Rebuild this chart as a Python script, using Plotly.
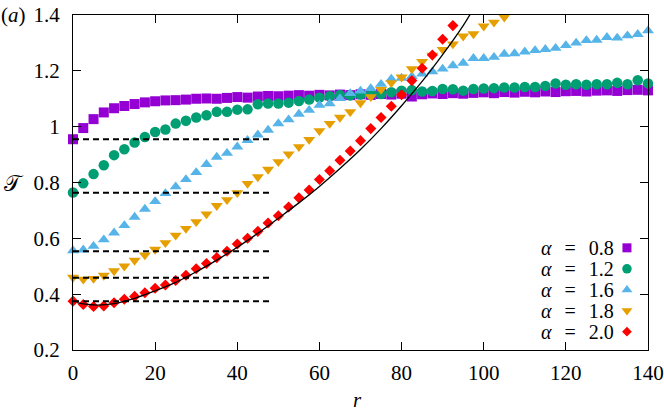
import plotly.graph_objects as go

# ---------------- data ----------------
r_all = [i * 2.5 for i in range(57)]  # 0 .. 140

T_a08 = [0.955, 0.995, 1.027, 1.051, 1.066, 1.074, 1.081, 1.087, 1.091, 1.094,
         1.095, 1.097, 1.100, 1.101, 1.100, 1.103, 1.106, 1.104, 1.108, 1.110,
         1.109, 1.111, 1.113, 1.111, 1.114, 1.112, 1.115, 1.113, 1.116, 1.114,
         1.117, 1.115, 1.118, 1.108, 1.116, 1.119, 1.117, 1.120, 1.118, 1.121,
         1.123, 1.120, 1.124, 1.122, 1.125, 1.123, 1.126, 1.124, 1.127, 1.128,
         1.126, 1.129, 1.130, 1.128, 1.131, 1.132, 1.130]

T_a12 = [0.764, 0.797, 0.830, 0.862, 0.898, 0.919, 0.943, 0.963, 0.981, 0.990,
         1.011, 1.021, 1.033, 1.041, 1.053, 1.053, 1.061, 1.062, 1.080, 1.083,
         1.083, 1.086, 1.092, 1.097, 1.104, 1.109, 1.113, 1.112, 1.115, 1.116,
         1.117, 1.123, 1.129, 1.131, 1.126, 1.128, 1.135, 1.134, 1.129, 1.135,
         1.137, 1.138, 1.140, 1.140, 1.142, 1.142, 1.146, 1.155, 1.150, 1.152,
         1.150, 1.152, 1.152, 1.157, 1.152, 1.166, 1.155]

T_a16 = [0.556, 0.559, 0.572, 0.595, 0.620, 0.646, 0.676, 0.705, 0.732, 0.761,
         0.785, 0.811, 0.836, 0.865, 0.891, 0.905, 0.928, 0.951, 0.971, 0.988,
         1.011, 1.025, 1.045, 1.059, 1.077, 1.083, 1.101, 1.119, 1.128, 1.137,
         1.152, 1.171, 1.174, 1.180, 1.189, 1.197, 1.207, 1.219, 1.228, 1.245,
         1.245, 1.249, 1.260, 1.262, 1.268, 1.273, 1.277, 1.281, 1.291, 1.300,
         1.309, 1.310, 1.320, 1.318, 1.326, 1.331, 1.344]

T_a18 = [0.460, 0.453, 0.456, 0.467, 0.483, 0.500, 0.521, 0.540, 0.560, 0.584,
         0.611, 0.635, 0.659, 0.687, 0.717, 0.738, 0.763, 0.796, 0.820, 0.847,
         0.874, 0.902, 0.928, 0.954, 0.985, 1.011, 1.033, 1.053, 1.085, 1.107,
         1.133, 1.157, 1.177, 1.207, 1.233, 1.255, 1.276, 1.296, 1.324, 1.332,
         1.360, 1.374, 1.392]

T_a20 = [0.375, 0.363, 0.356, 0.358, 0.369, 0.382, 0.392, 0.405, 0.421, 0.433,
         0.449, 0.468, 0.491, 0.510, 0.531, 0.554, 0.580, 0.600, 0.625, 0.655,
         0.681, 0.712, 0.745, 0.773, 0.811, 0.842, 0.880, 0.913, 0.950, 0.993,
         1.033, 1.073, 1.114, 1.165, 1.209, 1.257, 1.313, 1.362]

# theory curve (solid black)
r_fit = [1, 3, 6, 10, 15, 20, 25, 30, 35, 40, 45, 50, 55, 60, 65, 70, 75, 80, 85, 90, 95, 97]
T_fit = [0.370, 0.364, 0.361, 0.366, 0.385, 0.412, 0.442, 0.480, 0.522, 0.568, 0.618,
         0.672, 0.727, 0.786, 0.850, 0.918, 0.993, 1.075, 1.162, 1.258, 1.362, 1.41]

# dashed reference levels (T at r = 0)
dash_levels = [0.955, 0.763, 0.554, 0.459, 0.375]
dash_r = [0, 48]

labels = ["0.8", "1.2", "1.6", "1.8", "2.0"]
series = [T_a08, T_a12, T_a16, T_a18, T_a20]
colors = ["#9400D3", "#009E73", "#56B4E9", "#E69F00", "#FF0000"]
symbols = ["square", "circle", "triangle-up", "triangle-down", "diamond"]
sizes = [10, 10.5, 10.5, 10.5, 8.5]

x_ticks = [0, 20, 40, 60, 80, 100, 120, 140]
y_ticks = [0.2, 0.4, 0.6, 0.8, 1.0, 1.2, 1.4]
y_ticktext = ["0.2", "0.4", "0.6", "0.8", "1", "1.2", "1.4"]

FONT = "Liberation Serif, DejaVu Serif, serif"
FS = 21

fig = go.Figure()

for lab, ys, c, s, sz in zip(labels, series, colors, symbols, sizes):
    fig.add_trace(go.Scatter(
        x=r_all[:len(ys)], y=ys, mode="markers", name="α = " + lab,
        marker=dict(color=c, symbol=s, size=sz, line=dict(width=0)),
        cliponaxis=False, showlegend=False))

for lvl in dash_levels:
    fig.add_trace(go.Scatter(
        x=dash_r, y=[lvl, lvl], mode="lines",
        line=dict(color="black", width=2, dash="6px,4px"),
        showlegend=False, hoverinfo="skip"))

fig.add_trace(go.Scatter(
    x=r_fit, y=T_fit, mode="lines", line=dict(color="black", width=1.3, shape="spline"),
    showlegend=False, hoverinfo="skip"))

# custom legend (text, then symbol on the right) on an overlay axis in [0,1]
leg_x = 0.9634
leg_y0 = 0.305
leg_dy = 0.0626
for i, (lab, c, s, sz) in enumerate(zip(labels, colors, symbols, sizes)):
    yy = leg_y0 - i * leg_dy
    fig.add_trace(go.Scatter(
        x=[leg_x], y=[yy], xaxis="x2", yaxis="y2", mode="markers",
        marker=dict(color=c, symbol=s, size=sz - 1, line=dict(width=0)),
        cliponaxis=False, showlegend=False, hoverinfo="skip"))
    fig.add_annotation(
        x=0.945, y=yy, xref="paper", yref="paper", xanchor="right", yanchor="middle",
        text="<i>α</i>\u2009\u2009 = \u2009\u2009" + lab, showarrow=False,
        font=dict(family=FONT, size=20, color="black"))

axis_common = dict(
    showgrid=False, zeroline=False, showline=True, linecolor="black", linewidth=1,
    mirror="ticks", ticks="inside", ticklen=8, tickwidth=1, tickcolor="black",
    automargin=False, ticklabeloverflow="allow",
    tickfont=dict(family=FONT, size=FS, color="black"))

fig.update_layout(
    width=664, height=411,
    margin=dict(l=73, r=16, t=15, b=61),
    plot_bgcolor="white", paper_bgcolor="white",
    xaxis=dict(range=[0, 140], tickvals=x_ticks, ticklabelstandoff=4, **axis_common),
    yaxis=dict(range=[0.2, 1.4], tickvals=y_ticks, ticktext=y_ticktext,
               ticklabelstandoff=8, **axis_common),
    xaxis2=dict(overlaying="x", range=[0, 1], visible=False, anchor="y2", automargin=False),
    yaxis2=dict(overlaying="y", range=[0, 1], visible=False, anchor="x2", automargin=False),
    showlegend=False,
)

fig.add_annotation(x=-0.103, y=1.0, xref="paper", yref="paper", xanchor="center",
                   yanchor="middle", text="(<i>a</i>)", showarrow=False,
                   font=dict(family=FONT, size=FS, color="black"))
fig.add_annotation(x=-0.103, y=0.498, xref="paper", yref="paper", xanchor="center",
                   yanchor="middle", text="\U0001D4AF", showarrow=False,
                   font=dict(family=FONT, size=22, color="black"))
fig.add_annotation(x=0.494, y=-0.15, xref="paper", yref="paper", xanchor="center",
                   yanchor="middle", text="<i>r</i>", showarrow=False,
                   font=dict(family=FONT, size=FS, color="black"))

# remove the default page margin so the figure fills the window exactly
fig.write_html("out.html",
               config={"displayModeBar": False},
               post_script="document.body.style.margin='0';document.body.style.padding='0';"
                           "document.body.style.overflow='hidden';")
